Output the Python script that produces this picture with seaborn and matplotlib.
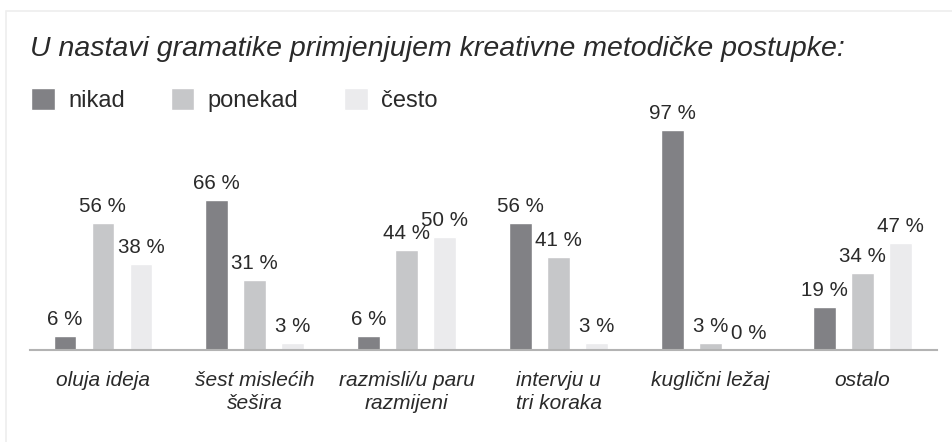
import matplotlib
matplotlib.use("Agg")
import matplotlib.pyplot as plt
import matplotlib.patches as mpatches
import seaborn as sns
import pandas as pd

categories = ["oluja ideja", "šest mislećih\nšešira", "razmisli/u paru\nrazmijeni",
              "intervju u\ntri koraka", "kuglični ležaj", "ostalo"]
series_names = ["nikad", "ponekad", "često"]
nikad = [6, 66, 6, 56, 97, 19]
ponekad = [56, 31, 44, 41, 3, 34]
cesto = [38, 3, 50, 3, 0, 47]
title = "U nastavi gramatike primjenjujem kreativne metodičke postupke:"
colors = ["#818185", "#c6c7c9", "#ebebed"]

rows = []
for name, vals in zip(series_names, [nikad, ponekad, cesto]):
    for c, v in zip(categories, vals):
        rows.append({"kategorija": c, "odgovor": name, "postotak": v})
df = pd.DataFrame(rows)

sns.set_theme(style="white")
plt.rcParams["font.family"] = ["Liberation Sans", "DejaVu Sans"]

W, H = 952, 442
fig = plt.figure(figsize=(W / 100, H / 100), dpi=100)
fig.patch.set_facecolor("white")

# light frame
frame = mpatches.Rectangle((6 / W, -0.1), 1.2, 1.1 - 11 / H, transform=fig.transFigure,
                           facecolor="none", edgecolor="#eeeeee", linewidth=1.2)
fig.patches.append(frame)

ax = fig.add_axes([30 / W, (H - 350) / H, 907 / W, 227 / H])
ax.set_facecolor("none")
sns.barplot(data=df, x="kategorija", y="postotak", hue="odgovor",
            order=categories, hue_order=series_names, palette=colors,
            width=0.75, gap=0.4, saturation=1, ax=ax, errorbar=None)

for cont in ax.containers:
    ax.bar_label(cont, fmt="{:.0f} %", padding=5, fontsize=14.8, color="#2a2a2a")

ax.set_ylim(0, 100)
ax.set_xlim(-0.48, 5.49)
ax.set_xlabel("")
ax.set_ylabel("")
ax.set_yticks([])
for s in ["left", "right", "top"]:
    ax.spines[s].set_visible(False)
ax.spines["bottom"].set_color("#b3b3b3")
ax.spines["bottom"].set_linewidth(1.5)
ax.tick_params(axis="x", length=0, pad=15, labelsize=15, labelcolor="#2a2a2a")
for lab in ax.get_xticklabels():
    lab.set_fontstyle("italic")
    lab.set_linespacing(1.3)

leg = ax.legend(loc="upper left", bbox_to_anchor=(22 / W, 1 - 79 / H),
                bbox_transform=fig.transFigure, ncol=3, frameon=False,
                fontsize=17, handlelength=1.0, handleheight=1.0,
                handletextpad=0.55, columnspacing=1.95, borderaxespad=0)
for t in leg.get_texts():
    t.set_color("#2a2a2a")

fig.text(30 / W, 1 - 56 / H, title, fontsize=20.5, style="italic", color="#2a2a2a",
         ha="left", va="baseline")

fig.savefig("out.png", dpi=100)
